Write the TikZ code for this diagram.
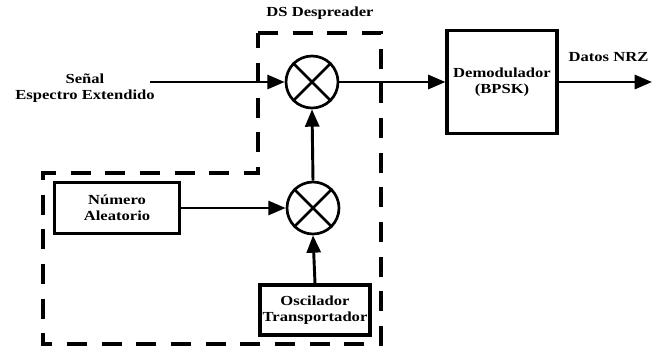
\documentclass[tikz,border=0pt]{standalone}
\usepackage{fontspec}
\setmainfont{Liberation Serif}[FakeStretch=1.2]
\usetikzlibrary{positioning,calc,arrows.meta}

\begin{document}
\begin{tikzpicture}[x=0.3mm, y=-0.3mm, font=\fontsize{11.8}{13.5}\selectfont\bfseries,
  >={Triangle[length=5.2mm, width=4.2mm]}, line width=2.5pt,
  bloque/.style={draw, line width=2.6pt, align=center, inner sep=1pt},
  mezclador/.style={draw, circle, line width=2.3pt, minimum size=15.6mm, inner sep=0pt},
  limite/.style={line width=3pt, dash pattern=on 6mm off 4.4mm}]
  \useasboundingbox (0,0) rectangle (652,351);
  % mezcladores
  \node[mezclador] (mult1) at (312,82) {};
  \node[mezclador] (mult2) at (313,208) {};
  \foreach \m in {mult1,mult2} {
    \draw[line width=2.3pt] (\m.45) -- (\m.225);
    \draw[line width=2.3pt] (\m.135) -- (\m.315);
  }
  % bloques
  \node[bloque, minimum width=37.5mm, minimum height=15.3mm] (numero) at (117,208) {Número\\Aleatorio};
  \node[bloque, minimum width=33mm, minimum height=15mm] (oscil) at (315,310) {Oscilador\\Transportador};
  \node[bloque, minimum width=33mm, minimum height=31mm] (demod) at (502,82) {Demodulador\\(BPSK)};
  % textos
  \node[align=center] (senal) at (85,88) {Señal\\Espectro Extendido};
  \node (despread) at (320,13) {DS Despreader};
  \node[anchor=east, inner sep=1pt] (datos) at (651,57) {Datos NRZ};
  \coordinate (entrada) at (150,82);
  \coordinate (salida) at (652,82);
  % zona DS
  \draw[limite] (258,33) -- (381,33) -- (381,344) -- (43,344) -- (43,173) -- (258,173) -- cycle;
  % conexiones
  \draw[->] (entrada) -- (mult1.west);
  \draw[->] (mult2.north) -- (mult1.south);
  \draw[->] (numero.east) -- (mult2.west);
  \draw[->] (oscil.north) -- (mult2.south);
  \draw[->] (mult1.east) -- (demod.west);
  \draw[->] (demod.east) -- (salida);
\end{tikzpicture}
\end{document}
